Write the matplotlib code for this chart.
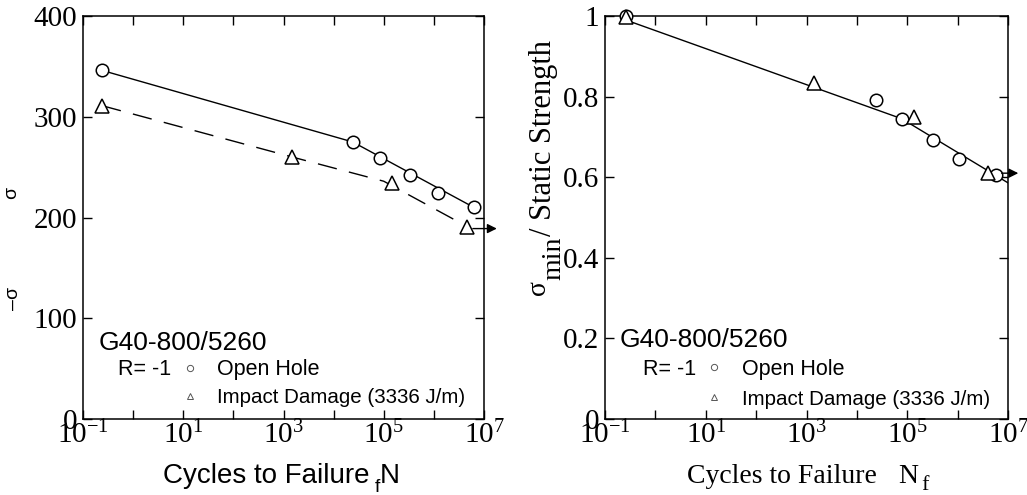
import matplotlib
matplotlib.use("Agg")
import matplotlib.pyplot as plt
from matplotlib.ticker import NullLocator

plt.rcParams['font.family'] = 'Liberation Serif'
plt.rcParams['mathtext.fontset'] = 'custom'
plt.rcParams['mathtext.rm'] = 'Liberation Serif'
plt.rcParams['mathtext.it'] = 'Liberation Serif:italic'

# left panel: stress (MPa) vs cycles
open_n = [0.24, 2.4e4, 8.3e4, 3.3e5, 1.2e6, 6.3e6]
open_s = [346, 275, 259, 242, 224, 210]
impact_n = [0.24, 1.5e3, 1.45e5, 4.6e6]
impact_s = [311, 260, 234, 191]
open_fit_n = [0.24, 2.4e4, 6.3e6]
open_fit_s = [346, 275, 210]
impact_fit_n = [0.24, 1.5e3, 1.0e5, 4.6e6]
impact_fit_s = [311, 260, 236, 191]

# right panel: normalised stress vs cycles
open_n2 = [0.26, 2.4e4, 7.8e4, 3.2e5, 1.05e6, 5.7e6]
open_r2 = [1.0, 0.792, 0.744, 0.692, 0.645, 0.605]
impact_n2 = [0.26, 1.4e3, 1.35e5, 4.0e6]
impact_r2 = [0.997, 0.834, 0.749, 0.61]
fit_n2 = [0.26, 7.8e4, 1.0e7]
fit_r2 = [0.99, 0.745, 0.586]

xticks = [1e-1, 1e1, 1e3, 1e5, 1e7]
xtick_labels = [r'$10^{-1}$', r'$10^{1}$', r'$10^{3}$', r'$10^{5}$', r'$10^{7}$']
yticks_left = [0, 100, 200, 300, 400]
yticks_right = [0, 0.2, 0.4, 0.6, 0.8, 1.0]
ytick_labels_right = ['0', '0.2', '0.4', '0.6', '0.8', '1']

W, H = 1027, 495
fig = plt.figure(figsize=(W / 100, H / 100), dpi=100)


def px(x, y):
    #pixel position (from top-left) to figure fraction
    return x / W, 1 - y / H


def style_axes(ax):
    ax.set_xscale('log')
    ax.set_xlim(1e-1, 1e7)
    ax.xaxis.set_minor_locator(NullLocator())
    ax.set_xticks([10.0 ** k for k in range(-1, 8)])
    for s in ax.spines.values():
        s.set_linewidth(1.1)
    ax.tick_params(which='major', direction='in', length=6.5, width=1.0,
                   top=True, right=True, labelsize=21, pad=4)
    ax.tick_params(axis='x', pad=1)
    # labels only on every second decade
    labs = []
    for k in range(-1, 8):
        v = 10.0 ** k
        labs.append(xtick_labels[xticks.index(v)] if v in xticks else '')
    ax.set_xticklabels(labs)


def legend_block(ax, x0, ybase_g, yb_r, yc_r, yc_t, yb_t):
    sans = 'Liberation Sans'
    ax.text(x0[0], ybase_g, 'G40-800/5260', transform=ax.transAxes, family=sans,
            fontsize=19, va='baseline', ha='left')
    ax.text(x0[1], yb_r, 'R= -1', transform=ax.transAxes, family=sans,
            fontsize=15.5, va='baseline', ha='left')
    ax.plot([x0[2]], [yc_r], 'o', transform=ax.transAxes, ms=4.5, mfc='white',
            mec='#555555', mew=0.7)
    ax.text(x0[3], yb_r, 'Open Hole', transform=ax.transAxes, family=sans,
            fontsize=15.5, va='baseline', ha='left')
    ax.plot([x0[2]], [yc_t], '^', transform=ax.transAxes, ms=5, mfc='white',
            mec='#555555', mew=0.7)
    ax.text(x0[3], yb_t, 'Impact Damage (3336 J/m)', transform=ax.transAxes,
            family=sans, fontsize=14.8, va='baseline', ha='left')


# ---------------- left panel ----------------
ax1 = fig.add_axes([83 / W, 1 - 419 / H, 401 / W, 403 / H])
style_axes(ax1)
ax1.set_ylim(0, 400)
ax1.set_yticks(yticks_left)
ax1.set_yticklabels([str(v) for v in yticks_left])

ax1.plot(open_fit_n, open_fit_s, '-', color='black', lw=1.0, zorder=2)
ax1.plot(impact_fit_n, impact_fit_s, color='black', lw=1.0, dashes=[14, 9], zorder=2)
ax1.plot(open_n, open_s, 'o', ms=9, mfc='white', mec='black', mew=1.1,
         zorder=3, clip_on=False)
ax1.plot(impact_n, impact_s, '^', ms=10, mfc='white', mec='black', mew=1.1,
         zorder=3, clip_on=False)
ax1.annotate('', xy=(1.8e7, impact_s[-1] - 2), xytext=(6.0e6, impact_s[-1] - 2),
             arrowprops=dict(arrowstyle='-|>', color='black', lw=1.0,
                             mutation_scale=14, shrinkA=0, shrinkB=0),
             annotation_clip=False)

legend_block(ax1, [0.04, 0.087, 0.267, 0.334], 0.171, 0.109, 0.127, 0.057, 0.040)

x, y = px(12, 193)
fig.text(x, y, 'σ', family='Liberation Sans', fontsize=14, rotation=90,
         ha='center', va='center')
x, y = px(13, 298)
fig.text(x, y, '–σ', family='Liberation Sans', fontsize=14, rotation=90,
         ha='center', va='center')

x, y = px(163, 483)
fig.text(x, y, 'Cycles to Failure', family='Liberation Sans', fontsize=20,
         ha='left', va='baseline')
x, y = px(380, 483)
fig.text(x, y, 'N', family='Liberation Sans', fontsize=20, ha='left', va='baseline')
x, y = px(375, 492)
fig.text(x, y, 'f', family='Liberation Sans', fontsize=14, ha='left', va='baseline')

# ---------------- right panel ----------------
ax2 = fig.add_axes([605 / W, 1 - 419 / H, 403 / W, 403 / H])
style_axes(ax2)
ax2.set_ylim(0, 1)
ax2.set_yticks(yticks_right)
ax2.set_yticklabels(ytick_labels_right)

ax2.plot(fit_n2, fit_r2, '-', color='black', lw=1.0, zorder=2)
ax2.plot(open_n2, open_r2, 'o', ms=9, mfc='white', mec='black', mew=1.1,
         zorder=3, clip_on=False)
ax2.plot(impact_n2, impact_r2, '^', ms=10, mfc='white', mec='black', mew=1.1,
         zorder=4, clip_on=False)
ax2.annotate('', xy=(1.6e7, impact_r2[-1]), xytext=(7.5e6, impact_r2[-1]),
             arrowprops=dict(arrowstyle='-|>', color='black', lw=1.0,
                             mutation_scale=14, shrinkA=0, shrinkB=0),
             annotation_clip=False)

legend_block(ax2, [0.037, 0.094, 0.27, 0.34], 0.179, 0.109, 0.129, 0.055, 0.035)

x, y = px(539, 295)
fig.text(x, y, 'σ', fontsize=20, rotation=90, ha='center', va='bottom')
x, y = px(554, 280)
fig.text(x, y, 'min', fontsize=20, rotation=90, ha='center', va='bottom')
x, y = px(543, 236)
fig.text(x, y, '/ Static Strength', fontsize=22, rotation=90, ha='center', va='bottom')

x, y = px(687, 483)
fig.text(x, y, 'Cycles to Failure', fontsize=20, ha='left', va='baseline')
x, y = px(898, 483)
fig.text(x, y, 'N', fontsize=20, ha='left', va='baseline')
x, y = px(921, 490)
fig.text(x, y, 'f', fontsize=16, ha='left', va='baseline')

fig.savefig('out.png', dpi=100)
